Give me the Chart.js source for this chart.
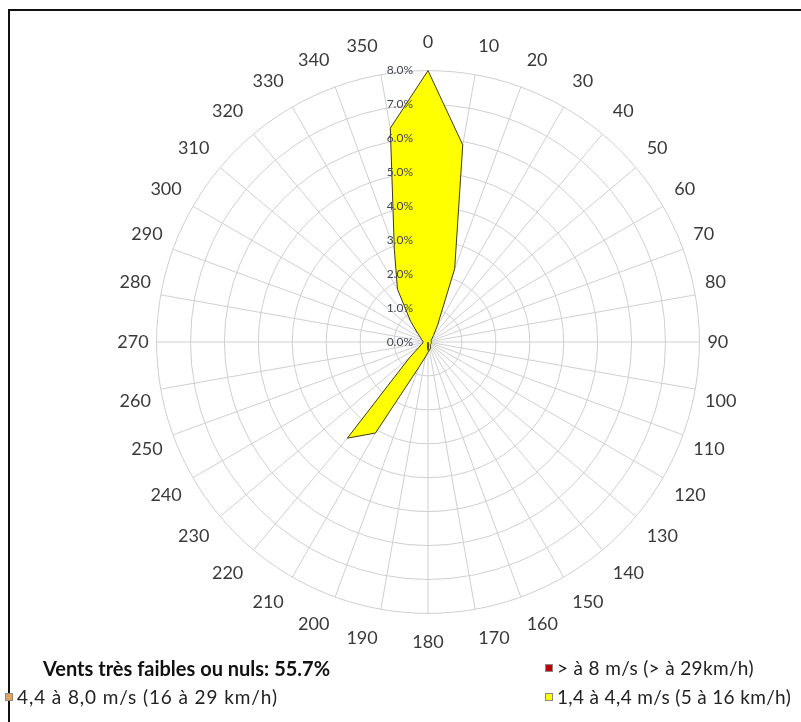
<!DOCTYPE html>
<html lang="fr">
<head>
<meta charset="utf-8">
<title>Rose des vents</title>
<script src="https://cdn.jsdelivr.net/npm/chart.js@4.4.1/dist/chart.umd.min.js"></script>
<style>
  html, body { margin: 0; padding: 0; background: #fff; }
  body { width: 801px; height: 722px; position: relative; overflow: hidden; font-family: Lato, "Open Sans", sans-serif; }
  #frame { position: absolute; left: 8px; top: 9px; width: 900px; height: 800px; border-top: 2px solid #111; border-left: 2px solid #111; }
  #wrap { position: absolute; left: 0; top: 0; width: 801px; height: 722px; }
  .calm { position: absolute; left: 43px; top: 656px; font-size: 20px; line-height: 24px; font-weight: bold; color: #111; white-space: nowrap; }
  .item { position: absolute; display: flex; align-items: center; font-size: 19px; line-height: 23px; letter-spacing: 0.35px; color: #222; white-space: nowrap; }
  .item .swatch { width: 6px; height: 6px; border: 1px solid #8a8a8a; margin-right: 4px; }
  .pos-0 { left: 545px; top: 656px; }
  .pos-1 { left: 5px; top: 685px; letter-spacing: 0.9px; }
  .pos-2 { left: 545px; top: 685px; }
</style>
</head>
<body>
<div id="frame"></div>
<div id="wrap"><canvas id="rose"></canvas></div>
<div id="legend"></div>
<script>
const directions = ['0', '10', '20', '30', '40', '50', '60', '70', '80', '90', '100', '110',
  '120', '130', '140', '150', '160', '170', '180', '190', '200', '210', '220', '230',
  '240', '250', '260', '270', '280', '290', '300', '310', '320', '330', '340', '350'];

// % de temps par direction et classe de vitesse
const strongWinds = [0, 0, 0, 0, 0, 0, 0, 0, 0, 0, 0, 0,
  0, 0, 0, 0, 0, 0, 0, 0, 0, 0, 0, 0,
  0, 0, 0, 0, 0, 0, 0, 0, 0, 0, 0, 0];
const mediumWinds = [0, 0, 0, 0, 0, 0, 0, 0, 0, 0, 0, 0,
  0, 0, 0, 0, 0, 0.1, 0.25, 0.1, 0, 0, 0, 0,
  0, 0, 0, 0, 0, 0, 0, 0, 0, 0, 0, 0];
const weakWinds = [8.0, 5.9, 2.3, 0.55, 0.25, 0.15, 0.1, 0.1, 0.1, 0.1, 0.1, 0.1,
  0.1, 0.1, 0.1, 0.15, 0.2, 0.25, 0.3, 0.45, 0.8, 3.1, 3.7, 0.7,
  0.3, 0.2, 0.15, 0.15, 0.15, 0.2, 0.25, 0.4, 0.8, 1.8, 2.9, 6.4];

const seriesLabels = ['> à 8 m/s (> à 29km/h)', '4,4 à 8,0 m/s (16 à 29 km/h)', '1,4 à 4,4 m/s (5 à 16 km/h)'];
const seriesColors = ['#c00000', '#e3a15e', '#ffff00'];
const calmShare = 55.7;
const radialTicks = [0, 1, 2, 3, 4, 5, 6, 7, 8];

// étiquettes % dessinées à gauche de l'axe nord, par-dessus les aires
const tickLabels = {
  id: 'tickLabels',
  afterDatasetsDraw(chart) {
    const scale = chart.scales.r;
    const ctx = chart.ctx;
    ctx.save();
    ctx.font = '12px Lato';
    ctx.fillStyle = '#404656';
    ctx.textAlign = 'right';
    ctx.textBaseline = 'middle';
    radialTicks.forEach(v => {
      const y = scale.yCenter - scale.getDistanceFromCenterForValue(v);
      ctx.fillText(v.toFixed(1) + '%', scale.xCenter - 15, y);
    });
    ctx.restore();
  }
};

const values = [strongWinds, mediumWinds, weakWinds];

const chart = new Chart(document.getElementById('rose'), {
  type: 'radar',
  data: {
    labels: directions,
    datasets: values.map((data, i) => ({
      label: seriesLabels[i],
      data: data,
      backgroundColor: seriesColors[i],
      borderColor: '#3b3a1c',
      borderWidth: 1,
      fill: true,
      pointRadius: 0,
      pointHoverRadius: 0,
      tension: 0
    }))
  },
  options: {
    responsive: true,
    maintainAspectRatio: false,
    animation: false,
    layout: {
      padding: { left: 73, right: 18, top: 32, bottom: 68 }
    },
    scales: {
      r: {
        min: 0,
        max: 8,
        ticks: { stepSize: 1, display: false },
        grid: { circular: true, color: '#cfcfcf', lineWidth: 1 },
        angleLines: { color: '#cfcfcf', lineWidth: 1 },
        pointLabels: {
          // the labels sit further out at top/bottom than at the sides
          padding: ctx => 8 + Math.round(10 * Math.abs(Math.cos(ctx.index * Math.PI / 18))),
          color: '#3a3a3a',
          font: { family: 'Lato', size: 18 }
        }
      }
    },
    plugins: {
      legend: { display: false },
      tooltip: { enabled: false }
    }
  },
  plugins: [tickLabels]
});

// légende HTML façon tableur
const legend = document.getElementById('legend');
const calm = document.createElement('div');
calm.className = 'calm';
calm.textContent = 'Vents très faibles ou nuls: ' + calmShare.toFixed(1) + '%';
legend.appendChild(calm);

seriesLabels.forEach((label, i) => {
  const item = document.createElement('div');
  item.className = 'item pos-' + i;
  const sw = document.createElement('span');
  sw.className = 'swatch';
  sw.style.background = seriesColors[i];
  item.appendChild(sw);
  item.appendChild(document.createTextNode(label));
  legend.appendChild(item);
});
</script>
</body>
</html>
